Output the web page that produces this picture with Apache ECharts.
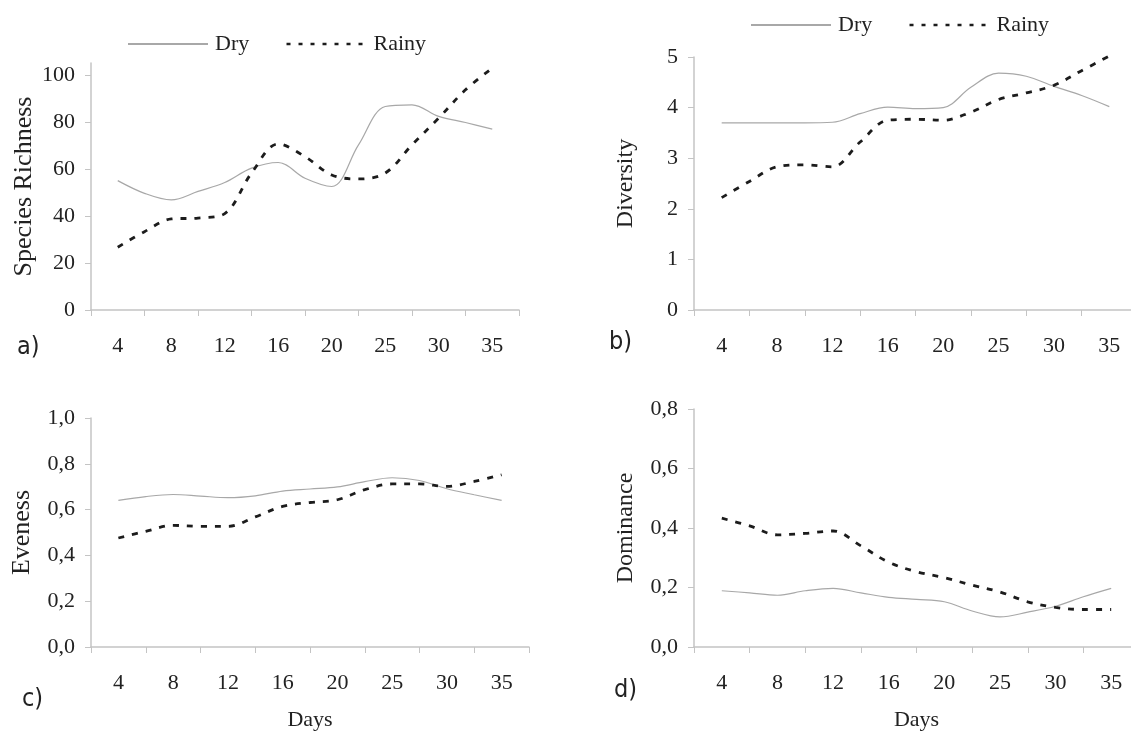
<!DOCTYPE html>
<html>
<head>
<meta charset="utf-8">
<script src="https://cdn.jsdelivr.net/npm/echarts@6/dist/echarts.min.js"></script>
<style>html,body{margin:0;padding:0;background:#fff}#c{width:1131px;height:733px}</style>
</head>
<body>
<div id="c"></div>
<script>
// Category labels (days)
const days = ['4', '8', '12', '16', '20', '25', '30', '35'];

// Values sampled at each day and half-way between consecutive days (15 points)
const richnessDry   = [55, 49.6, 46.8, 50.4, 54.2, 60.3, 62.7, 56, 52.5, 70.2, 86.5, 87.2, 82.3, 79.7, 76.9];
const richnessRainy = [26.7, 33.3, 38.7, 39.1, 41, 58.2, 70.6, 65.2, 57.4, 55.7, 58.2, 70.2, 81.6, 93.6, 102.8];

const diversityDry   = [3.7, 3.7, 3.7, 3.7, 3.71, 3.88, 4.01, 3.98, 4.0, 4.4, 4.68, 4.62, 4.42, 4.24, 4.02];
const diversityRainy = [2.22, 2.54, 2.83, 2.87, 2.83, 3.32, 3.75, 3.77, 3.75, 3.91, 4.16, 4.29, 4.44, 4.73, 5.02];

const evenessDry   = [0.64, 0.657, 0.666, 0.659, 0.652, 0.66, 0.681, 0.69, 0.699, 0.722, 0.739, 0.727, 0.691, 0.665, 0.64];
const evenessRainy = [0.476, 0.505, 0.531, 0.527, 0.527, 0.568, 0.614, 0.631, 0.643, 0.687, 0.712, 0.712, 0.701, 0.723, 0.752];

const dominanceDry   = [0.189, 0.182, 0.174, 0.189, 0.197, 0.182, 0.167, 0.16, 0.152, 0.121, 0.101, 0.117, 0.137, 0.169, 0.197];
const dominanceRainy = [0.433, 0.407, 0.377, 0.382, 0.39, 0.34, 0.285, 0.253, 0.233, 0.208, 0.185, 0.152, 0.133, 0.126, 0.126];

// Tick labels
const richnessTicks  = [0, 20, 40, 60, 80, 100];
const diversityTicks = [0, 1, 2, 3, 4, 5];
const evenessTicks   = [0, 0.2, 0.4, 0.6, 0.8, 1.0];
const dominanceTicks = [0, 0.2, 0.4, 0.6, 0.8];

const serif = "'Liberation Serif','Times New Roman',serif";
const narrow = "'Liberation Sans Narrow','DejaVu Sans Condensed','Arial Narrow',sans-serif";
const axisGray = '#c4c4c4';

const panels = [
  {grid: {left: 91, top: 63, width: 428, height: 247}, max: 105, ticks: richnessTicks, dec: 0,
   name: 'Species Richness', nameSize: 26, nameGap: 54, dry: richnessDry, rainy: richnessRainy, days: false},
  {grid: {left: 694, top: 57, width: 443, height: 253}, max: 5, ticks: diversityTicks, dec: 0,
   name: 'Diversity', nameSize: 24, nameGap: 56, dry: diversityDry, rainy: diversityRainy, days: false},
  {grid: {left: 91, top: 418, width: 438, height: 229}, max: 1, ticks: evenessTicks, dec: 1,
   name: 'Eveness', nameSize: 26, nameGap: 56, dry: evenessDry, rainy: evenessRainy, days: true},
  {grid: {left: 694, top: 409, width: 445, height: 238}, max: 0.8, ticks: dominanceTicks, dec: 1,
   name: 'Dominance', nameSize: 24, nameGap: 56, dry: dominanceDry, rainy: dominanceRainy, days: true}
];

const grid = [], xAxis = [], yAxis = [], series = [];
panels.forEach((p, k) => {
  grid.push(Object.assign({outerBoundsMode: 'none', containLabel: false}, p.grid));
  // visible category axis: labels centered in bands, ticks at band boundaries
  xAxis.push({
    type: 'category', gridIndex: k, data: days, boundaryGap: true,
    axisLine: {lineStyle: {color: axisGray, width: 1.5}},
    axisTick: {show: true, interval: 0, length: 6, lineStyle: {color: axisGray}},
    axisLabel: {interval: 0, margin: 25, fontFamily: serif, fontSize: 22, color: '#222'},
    name: p.days ? 'Days' : '', nameLocation: 'middle', nameGap: 62,
    nameTextStyle: {fontFamily: serif, fontSize: 22, color: '#222'}
  });
  // hidden value axis used to place the 15 samples (day points and midpoints)
  xAxis.push({type: 'value', gridIndex: k, min: 0, max: 16, show: false});
  yAxis.push({
    type: 'value', gridIndex: k, min: 0, max: p.max,
    axisLine: {show: true, lineStyle: {color: axisGray, width: 1.5}},
    axisTick: {show: true, inside: false, length: 6, customValues: p.ticks, lineStyle: {color: axisGray}},
    axisLabel: {customValues: p.ticks, margin: 16, fontFamily: serif, fontSize: 22, color: '#222',
      formatter: v => v.toFixed(p.dec).replace('.', ',')},
    splitLine: {show: false},
    name: p.name, nameLocation: 'middle', nameRotate: 90, nameGap: p.nameGap,
    nameTextStyle: {fontFamily: serif, fontSize: p.nameSize, color: '#222'}
  });
  const toPts = arr => arr.map((v, i) => [i + 1, v]);
  series.push({
    name: 'Dry', type: 'line', xAxisIndex: 2 * k + 1, yAxisIndex: k, data: toPts(p.dry),
    smooth: 0.35, symbol: 'none', lineStyle: {color: '#a8a8a8', width: 1.2}, itemStyle: {color: '#a8a8a8'},
    clip: false, silent: true
  });
  series.push({
    name: 'Rainy', type: 'line', xAxisIndex: 2 * k + 1, yAxisIndex: k, data: toPts(p.rainy),
    smooth: 0.35, symbol: 'none', lineStyle: {color: '#1c1c1c', width: 2.8, type: [6, 8]}, itemStyle: {color: '#1c1c1c'},
    clip: false, silent: true
  });
});

const legendBase = {
  data: [{name: 'Dry'}, {name: 'Rainy', lineStyle: {type: [4, 8], width: 2.6}}],
  itemWidth: 80, itemHeight: 12, itemGap: 36, selectedMode: false,
  itemStyle: {opacity: 0, borderWidth: 0},
  textStyle: {fontFamily: serif, fontSize: 22, color: '#222', padding: [0, 0, 0, 2]}
};

const chart = echarts.init(document.getElementById('c'), null, {renderer: 'canvas'});
chart.setOption({
  animation: false,
  backgroundColor: '#fff',
  legend: [
    Object.assign({left: 122, top: 28}, legendBase),
    Object.assign({left: 745, top: 9}, legendBase)
  ],
  title: [
    {text: 'a)', left: 17, top: 335},
    {text: 'b)', left: 609, top: 330},
    {text: 'c)', left: 22, top: 687},
    {text: 'd)', left: 614, top: 678}
  ].map(t => Object.assign(t, {padding: 0, textStyle: {fontFamily: narrow, fontSize: 25, fontWeight: 'normal', color: '#222'}})),
  grid, xAxis, yAxis, series
});
</script>
</body>
</html>
